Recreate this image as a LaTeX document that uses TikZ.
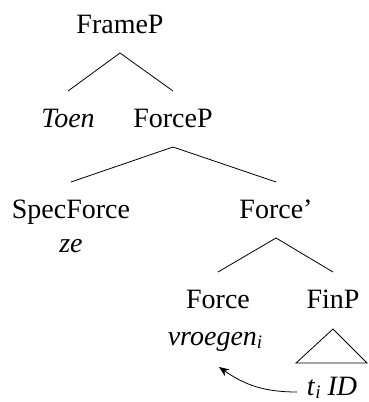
\documentclass[tikz,border=0pt]{standalone}
\usepackage{fontspec}
\setmainfont{Liberation Serif}
\usetikzlibrary{arrows.meta}
% small italic index, only slightly lowered
\newcommand\idx[1]{\raisebox{-3pt}{\fontsize{19}{20}\selectfont\itshape #1}}
\begin{document}
\begin{tikzpicture}[x=1pt,y=1pt,
  lbl/.style={anchor=base,inner sep=0pt,font=\fontsize{28}{32}\selectfont},
  branch/.style={line width=0.8pt}]
\useasboundingbox (0,0) rectangle (369,-402);
% labels, placed by their baselines
\node[lbl] (frame) at (120,-33) {FrameP};
\node[lbl] (toen) at (68,-127) {\textit{Toen}};
\node[lbl] (forcep) at (173,-127) {ForceP};
\node[lbl] (spec) at (71,-218) {SpecForce};
\node[lbl] (ze) at (71,-252) {\textit{ze}};
\node[lbl] (forcebar) at (276,-218) {Force’};
\node[lbl] (force) at (218,-308) {Force};
\node[lbl] (finp) at (333,-308) {FinP};
\node[lbl] (vroegen) at (215,-345) {\textit{vroegen}\idx{i}};
\node[lbl] (trace) at (332,-395) {\textit{t}\idx{i} \textit{ID}};
% branches: from just below a mother to just above each daughter
\foreach \m/\d in {frame/toen, frame/forcep, forcep/spec, forcep/forcebar, forcebar/force, forcebar/finp}
  \draw[branch] ([yshift=-20pt]\m.base) -- ([yshift=36pt]\d.base);
% roof over FinP
\coordinate (roof) at ([yshift=-21pt]finp.base);
\draw[branch] (roof) -- ++(-37,-34) -- ++(71,0) -- cycle;
% movement arrow
\coordinate (tail) at ([xshift=-35pt,yshift=3pt]trace.base);
\coordinate (head) at ([xshift=4pt,yshift=-22pt]vroegen.base);
\draw[branch,-{Stealth[length=10pt,width=8pt]}] (tail) to[out=180,in=-35] (head);
\end{tikzpicture}
\end{document}
